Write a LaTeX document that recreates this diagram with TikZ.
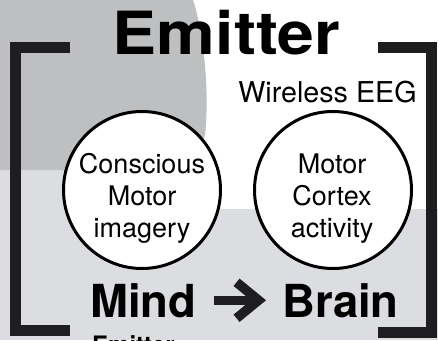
\documentclass[tikz,border=0pt]{standalone}
\usepackage{fontspec}
\setmainfont{TeX Gyre Heros}
\usetikzlibrary{arrows.meta}
\definecolor{blobgrey}{HTML}{BEBFC1}
\definecolor{lightgrey}{HTML}{DCDDE0}
\definecolor{inkdark}{HTML}{1E1E20}
\begin{document}
\begin{tikzpicture}[x=1pt,y=-1pt,
  circ/.style={circle, draw=black, line width=3pt, fill=white, minimum size=157pt, inner sep=0pt},
  lbl/.style={font=\fontsize{27}{32}\selectfont, inner sep=0pt, anchor=base},
  big/.style={font=\bfseries\fontsize{45.5}{50}\selectfont, inner sep=0pt, anchor=base},
  bracket/.style={draw=inkdark, line width=11pt, line join=miter},
  bigarrow/.style={draw=inkdark, line width=9.5pt, -{Straight Barb[length=22pt, width=36pt, line width=9.5pt]}}]
\useasboundingbox (0,0) rectangle (438,340);
% background regions
\fill[lightgrey] (0,0) rectangle (438,340);
\fill[white] (150,0) rectangle (438,209);
\fill[blobgrey] (0,0) -- (193,0) .. controls (203,30) and (210,90) .. (205,135) -- (190,170) -- (0,170) -- cycle;
% brackets
\draw[bracket] (70,47.5) -- (15.5,47.5) -- (15.5,330.5) -- (70,330.5);
\draw[bracket] (378,47.5) -- (431.5,47.5) -- (431.5,332) -- (378,332);
% title
\node[anchor=base, inner sep=0pt] (title) at (226.5,54) {\scalebox{1.11}[1]{\fontsize{59.5}{60}\selectfont\bfseries Emitter}};
\node[anchor=base, inner sep=0pt, font=\fontsize{28.7}{32}\selectfont] (eeg) at (327.5,102) {Wireless EEG};
% circles
\node[circ] (c1) at (142,190) {};
\node[circ] (c2) at (333,190) {};
\node[lbl] (c1a) at (142,173) {Conscious};
\node[lbl] (c1b) at (142,205) {Motor};
\node[lbl] (c1c) at (142,237) {imagery};
\node[lbl] (c2a) at (332,173) {Motor};
\node[lbl] (c2b) at (332,205) {Cortex};
\node[lbl] (c2c) at (332,237) {activity};
% mind -> brain
\node[big] (mind) at (143.5,317) {Mind};
\node[big] (brain) at (340.5,317) {Brain};
\draw[bigarrow] ([xshift=17pt]mind.east) -- ([xshift=-16pt]brain.west);
% partial text at bottom
\node[anchor=base west, inner sep=0pt, font=\bfseries\fontsize{24}{28}\selectfont] (sub) at (92,353) {Emitter};
\end{tikzpicture}
\end{document}
